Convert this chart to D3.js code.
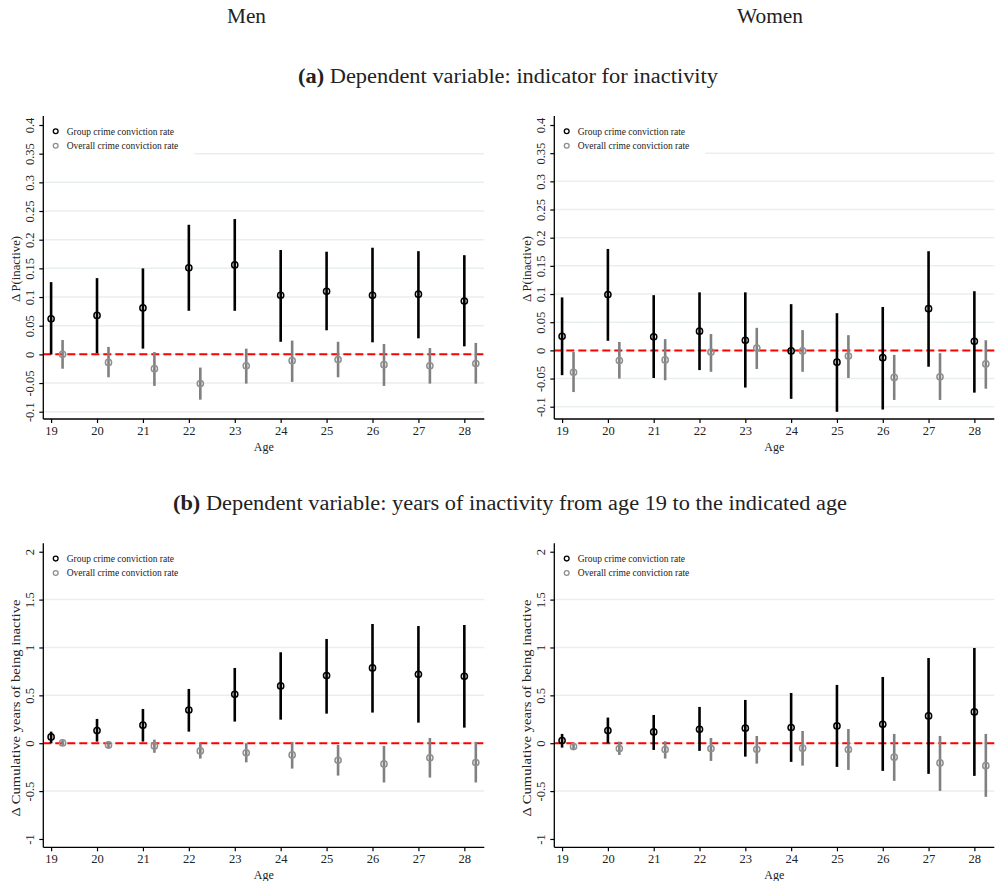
<!DOCTYPE html>
<html><head><meta charset="utf-8">
<script src="https://cdn.jsdelivr.net/npm/d3@7"></script>
<style>
body{margin:0;background:#fff;}
text{font-family:"Liberation Serif","Times New Roman",serif;fill:#222;}
</style></head>
<body>
<svg id="chart" width="997" height="881"></svg>
<script>
const ages = [19,20,21,22,23,24,25,26,27,28];
const seriesNames = ["Group crime conviction rate","Overall crime conviction rate"];

const ticksInact = [-0.1,-0.05,0,0.05,0.1,0.15,0.2,0.25,0.3,0.35,0.4];
const tickLabelsInact = ["-0.1","-0.05","0","0.05","0.1","0.15","0.2","0.25","0.3","0.35","0.4"];
const gridInact = [-0.1,-0.05,0,0.05,0.1,0.15,0.2,0.25,0.3,0.35];
const ticksCum = [-1,-0.5,0,0.5,1,1.5,2];
const tickLabelsCum = ["-1","-0.5","0","0.5","1","1.5","2"];
const gridCum = [-0.5,0,0.5,1,1.5];

// (a) Men, inactivity
const menInactGroupEst = [0.062,0.068,0.081,0.151,0.156,0.103,0.110,0.103,0.105,0.093];
const menInactGroupLo  = [0.000,0.002,0.010,0.076,0.076,0.022,0.042,0.021,0.028,0.014];
const menInactGroupHi  = [0.126,0.133,0.150,0.226,0.236,0.182,0.179,0.186,0.180,0.173];
const menInactOverEst  = [0.000,-0.014,-0.025,-0.051,-0.020,-0.011,-0.009,-0.018,-0.020,-0.016];
const menInactOverLo   = [-0.025,-0.040,-0.055,-0.079,-0.051,-0.048,-0.040,-0.055,-0.051,-0.051];
const menInactOverHi   = [0.025,0.013,0.004,-0.023,0.010,0.024,0.022,0.018,0.011,0.020];
// (a) Women, inactivity
const womInactGroupEst = [0.025,0.099,0.024,0.034,0.018,-0.001,-0.021,-0.013,0.074,0.016];
const womInactGroupLo  = [-0.044,0.017,-0.049,-0.035,-0.066,-0.086,-0.109,-0.105,-0.029,-0.075];
const womInactGroupHi  = [0.094,0.180,0.098,0.103,0.103,0.082,0.066,0.077,0.176,0.105];
const womInactOverEst  = [-0.039,-0.018,-0.017,-0.003,0.004,-0.001,-0.010,-0.048,-0.047,-0.024];
const womInactOverLo   = [-0.074,-0.050,-0.053,-0.038,-0.033,-0.038,-0.049,-0.088,-0.088,-0.068];
const womInactOverHi   = [-0.003,0.015,0.020,0.029,0.040,0.036,0.027,-0.008,-0.005,0.018];
// (b) Men, cumulative years
const menCumGroupEst = [0.066,0.132,0.188,0.347,0.511,0.598,0.706,0.786,0.720,0.699];
const menCumGroupLo  = [0.000,0.017,0.017,0.121,0.226,0.246,0.309,0.320,0.215,0.163];
const menCumGroupHi  = [0.121,0.254,0.358,0.567,0.786,0.950,1.089,1.245,1.224,1.235];
const menCumOverEst  = [0.003,-0.018,-0.028,-0.080,-0.100,-0.122,-0.178,-0.216,-0.153,-0.202];
const menCumOverLo   = [-0.025,-0.057,-0.100,-0.160,-0.200,-0.265,-0.338,-0.410,-0.359,-0.410];
const menCumOverHi   = [0.030,0.020,0.037,0.000,0.000,0.014,-0.018,-0.028,0.055,0.014];
// (b) Women, cumulative years
const womCumGroupEst = [0.028,0.132,0.118,0.146,0.157,0.163,0.181,0.198,0.285,0.327];
const womCumGroupLo  = [-0.046,0.000,-0.070,-0.080,-0.140,-0.195,-0.247,-0.289,-0.320,-0.341];
const womCumGroupHi  = [0.097,0.268,0.295,0.379,0.452,0.525,0.609,0.692,0.890,0.995];
const womCumOverEst  = [-0.035,-0.056,-0.066,-0.056,-0.063,-0.052,-0.066,-0.146,-0.206,-0.234];
const womCumOverLo   = [-0.063,-0.122,-0.160,-0.185,-0.213,-0.234,-0.279,-0.393,-0.498,-0.560];
const womCumOverHi   = [-0.007,0.017,0.020,0.055,0.076,0.128,0.149,0.097,0.076,0.097];

const svg = d3.select("#chart");

function drawPanel(o){
  const g = svg.append("g");
  const x = d3.scaleLinear().domain([18.83,28.435]).range([o.x0,o.x1]);
  const y = d3.scaleLinear().domain(o.ydom).range([o.y1,o.y0]);
  // grid
  g.selectAll(".grid").data(o.grid).enter().append("line")
    .attr("x1",o.x0).attr("x2",o.x1).attr("y1",d=>y(d)).attr("y2",d=>y(d))
    .attr("stroke","#e9eef1").attr("stroke-width",1.5);
  // legend background
  g.append("rect").attr("x",o.x0+1).attr("y",o.y0+3).attr("width",150).attr("height",o.legH)
    .attr("fill","#fff");
  // reference line
  g.append("line").attr("x1",o.x0).attr("x2",o.x1).attr("y1",y(0)).attr("y2",y(0))
    .attr("stroke","#ff0000").attr("stroke-width",2).attr("stroke-dasharray","8,4");
  const series = [
    {est:o.gEst,lo:o.gLo,hi:o.gHi,off:0,line:"#000",mark:"#000"},
    {est:o.oEst,lo:o.oLo,hi:o.oHi,off:0.25,line:"#808080",mark:"#8f8f8f"}
  ];
  series.forEach(s=>{
    const d = ages.map((a,i)=>({a:a+s.off,e:s.est[i],lo:s.lo[i],hi:s.hi[i]}));
    g.selectAll(null).data(d).enter().append("line")
      .attr("x1",p=>x(p.a)).attr("x2",p=>x(p.a)).attr("y1",p=>y(p.lo)).attr("y2",p=>y(p.hi))
      .attr("stroke",s.line).attr("stroke-width",2.6);
    g.selectAll(null).data(d).enter().append("circle")
      .attr("cx",p=>x(p.a)).attr("cy",p=>y(p.e)).attr("r",3.1)
      .attr("fill","none").attr("stroke",s.mark).attr("stroke-width",1.5);
  });
  // axes
  const yAxis = d3.axisLeft(y).tickValues(o.ticks).tickSize(4).tickFormat((d,i)=>o.tickLabels[i]);
  const ya = g.append("g").attr("transform",`translate(${o.x0},0)`).call(yAxis);
  ya.select(".domain").attr("d",`M0,${o.y0}V${o.y1}`).attr("stroke","#000").attr("stroke-width",1.3);
  ya.selectAll(".tick line").attr("stroke","#000").attr("stroke-width",1.2);
  ya.selectAll(".tick text").attr("x",null).attr("dy",null)
    .attr("transform","translate(-9,0) rotate(-90)").attr("text-anchor","middle")
    .style("font-family","'Liberation Serif',serif").style("font-size","12.5px").attr("fill","#222");
  const xAxis = d3.axisBottom(x).tickValues(ages).tickSize(4).tickFormat(d3.format("d"));
  const xa = g.append("g").attr("transform",`translate(0,${o.y1})`).call(xAxis);
  xa.select(".domain").attr("d",`M${o.x0},0H${o.x1}`).attr("stroke","#000").attr("stroke-width",1.3);
  xa.selectAll(".tick line").attr("stroke","#000").attr("stroke-width",1.2);
  xa.selectAll(".tick text").attr("y",7).attr("dy","0.71em")
    .style("font-family","'Liberation Serif',serif").style("font-size","12.5px").attr("fill","#222");
  // axis titles
  g.append("text").attr("x",(o.x0+o.x1)/2).attr("y",o.y1+32).attr("text-anchor","middle")
    .style("font-size","12px").text("Age");
  g.append("text").attr("transform",`translate(${o.x0-23},${o.ylabY}) rotate(-90)`)
    .attr("text-anchor","middle").style("font-size","12.5px")
    .attr("textLength",o.ylabLen).attr("lengthAdjust","spacingAndGlyphs").text(o.ylabel);
  // legend
  const lg = g.append("g");
  [["#000"],["#8f8f8f"]].forEach((c,i)=>{
    lg.append("circle").attr("cx",o.x0+12.4).attr("cy",o.y0+15.3+i*14.4).attr("r",2.4)
      .attr("fill","none").attr("stroke",c[0]).attr("stroke-width",1.3);
    lg.append("text").attr("x",o.x0+23.4).attr("y",o.y0+18.5+i*14.4)
      .style("font-size","9.5px").text(seriesNames[i]);
  });
}

const topY0=116, topY1=419, botY0=543.3, botY1=847.3;
drawPanel({x0:43.3,x1:484.3,y0:topY0,y1:topY1,ydom:[-0.1127,0.4157],grid:gridInact,ticks:ticksInact,tickLabels:tickLabelsInact,
  ylabel:"Δ P(inactive)",ylabY:269,ylabLen:66,legH:37,
  gEst:menInactGroupEst,gLo:menInactGroupLo,gHi:menInactGroupHi,oEst:menInactOverEst,oLo:menInactOverLo,oHi:menInactOverHi});
drawPanel({x0:554.3,x1:994.3,y0:topY0,y1:topY1,ydom:[-0.1218,0.416],grid:gridInact,ticks:ticksInact,tickLabels:tickLabelsInact,
  ylabel:"Δ P(inactive)",ylabY:269,ylabLen:66,legH:37,
  gEst:womInactGroupEst,gLo:womInactGroupLo,gHi:womInactGroupHi,oEst:womInactOverEst,oLo:womInactOverLo,oHi:womInactOverHi});
drawPanel({x0:43.3,x1:484.3,y0:botY0,y1:botY1,ydom:[-1.087,2.088],grid:gridCum,ticks:ticksCum,tickLabels:tickLabelsCum,
  ylabel:"Δ Cumulative years of being inactive",ylabY:708,ylabLen:217,legH:37,
  gEst:menCumGroupEst,gLo:menCumGroupLo,gHi:menCumGroupHi,oEst:menCumOverEst,oLo:menCumOverLo,oHi:menCumOverHi});
drawPanel({x0:554.3,x1:994.3,y0:botY0,y1:botY1,ydom:[-1.087,2.088],grid:gridCum,ticks:ticksCum,tickLabels:tickLabelsCum,
  ylabel:"Δ Cumulative years of being inactive",ylabY:708,ylabLen:217,legH:37,
  gEst:womCumGroupEst,gLo:womCumGroupLo,gHi:womCumGroupHi,oEst:womCumOverEst,oLo:womCumOverLo,oHi:womCumOverHi});

// Titles
svg.append("text").attr("x",246.5).attr("y",23).attr("text-anchor","middle").style("font-size","21px")
  .attr("textLength",39).attr("lengthAdjust","spacingAndGlyphs").text("Men");
svg.append("text").attr("x",770).attr("y",23).attr("text-anchor","middle").style("font-size","21px")
  .attr("textLength",66).attr("lengthAdjust","spacingAndGlyphs").text("Women");
const ta = svg.append("text").attr("x",508).attr("y",83).attr("text-anchor","middle").style("font-size","20.5px")
  .attr("textLength",420).attr("lengthAdjust","spacingAndGlyphs");
ta.append("tspan").style("font-weight","bold").text("(a)");
ta.append("tspan").text(" Dependent variable:  indicator for inactivity");
const tb = svg.append("text").attr("x",510).attr("y",510).attr("text-anchor","middle").style("font-size","20.5px")
  .attr("textLength",674).attr("lengthAdjust","spacingAndGlyphs");
tb.append("tspan").style("font-weight","bold").text("(b)");
tb.append("tspan").text(" Dependent variable:  years of inactivity from age 19 to the indicated age");
</script>
</body></html>
